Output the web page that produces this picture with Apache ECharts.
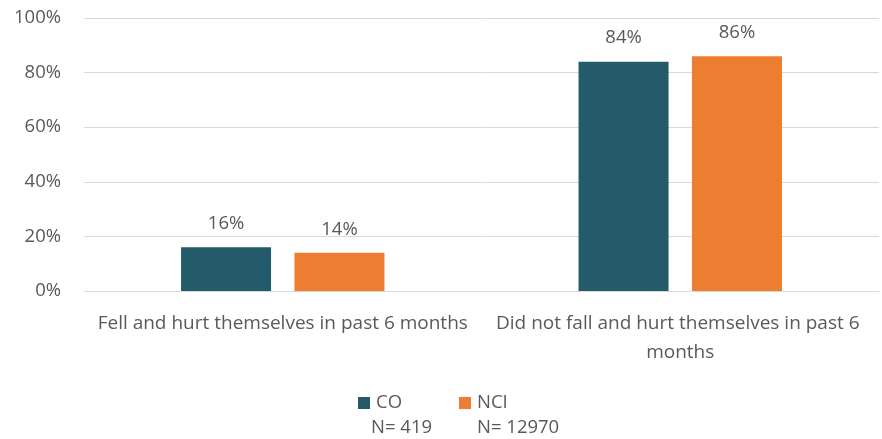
<!DOCTYPE html>
<html>
<head>
<meta charset="utf-8">
<script src="https://cdn.jsdelivr.net/npm/echarts@6/dist/echarts.min.js"></script>
<style>
  html, body { margin: 0; padding: 0; background: #fff; }
  #chart { width: 882px; height: 439px; }
</style>
</head>
<body>
<div id="chart"></div>
<script>
// Fall outcomes, share of respondents by group
const categories = [
  'Fell and hurt themselves in past 6 months',
  'Did not fall and hurt themselves in past 6 months'
];
const seriesNames = ['CO', 'NCI'];
const sampleSizes = ['N= 419', 'N= 12970'];
const coValues = [16, 84];
const nciValues = [14, 86];
const yTicks = [0, 20, 40, 60, 80, 100];

const FONT = 'Open Sans';
const TEXT = '#595959';
const colors = ['#235B6B', '#ED7D31'];

// legend layout: icon, 6px gap, fixed-width text; entries repeat every 106px
const LEGEND_LEFT = 353, ICON = 12, TEXT_OFFSET = 18, LEGEND_TEXT_W = 66, ITEM_GAP = 17, ENTRY_STRIDE = 106;

const chart = echarts.init(document.getElementById('chart'));

function barSeries(i, values) {
  return {
    name: seriesNames[i],
    type: 'bar',
    data: values,
    barWidth: 90,
    barGap: '26%',
    itemStyle: { color: colors[i] },
    label: {
      show: true,
      position: 'top',
      distance: 14,
      formatter: p => p.value + '%',
      color: TEXT,
      fontFamily: FONT,
      fontSize: 18.5
    }
  };
}

// sample-size line printed under each legend entry
const sampleTexts = seriesNames.map((n, i) => ({
  type: 'text',
  left: LEGEND_LEFT + TEXT_OFFSET + i * ENTRY_STRIDE,
  top: 418,
  style: {
    text: sampleSizes[i],
    fill: TEXT,
    font: '18.5px "' + FONT + '"'
  }
}));

chart.setOption({
  animation: false,
  textStyle: { fontFamily: FONT },
  grid: { left: 84, right: 2, top: 18, bottom: 148 },
  xAxis: {
    type: 'category',
    data: categories,
    axisLine: { lineStyle: { color: '#D9D9D9' } },
    axisTick: { show: false },
    axisLabel: {
      interval: 0,
      color: TEXT,
      fontFamily: FONT,
      fontSize: 19,
      margin: 18,
      width: 398,
      overflow: 'break',
      lineHeight: 29
    }
  },
  yAxis: {
    type: 'value',
    min: yTicks[0],
    max: yTicks[yTicks.length - 1],
    interval: 20,
    axisLine: { show: false },
    axisTick: { show: false },
    splitLine: { lineStyle: { color: '#D9D9D9', width: 1 } },
    axisLabel: {
      color: TEXT,
      fontFamily: FONT,
      fontSize: 18.5,
      margin: 23,
      formatter: v => v + '%'
    }
  },
  legend: {
    left: LEGEND_LEFT,
    top: 388,
    itemWidth: ICON,
    itemHeight: ICON,
    itemGap: ITEM_GAP,
    icon: 'rect',
    data: seriesNames,
    textStyle: {
      color: TEXT,
      fontFamily: FONT,
      fontSize: 18.5,
      width: LEGEND_TEXT_W,
      lineHeight: 20,
      padding: [0, 0, 0, 1]
    }
  },
  graphic: sampleTexts,
  series: [barSeries(0, coValues), barSeries(1, nciValues)]
});
</script>
</body>
</html>
